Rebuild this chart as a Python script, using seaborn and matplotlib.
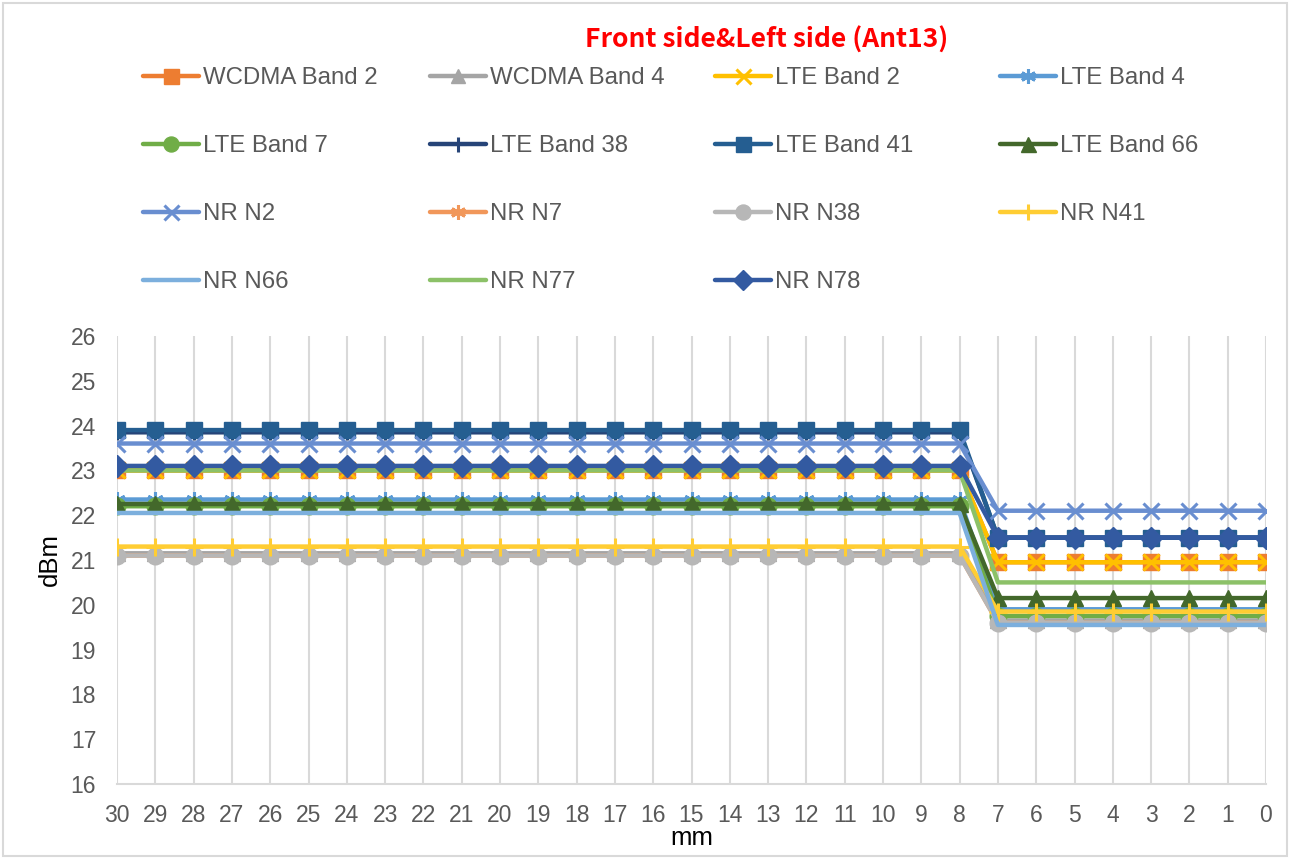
import matplotlib
matplotlib.use("Agg")
import matplotlib.pyplot as plt
import seaborn as sns
from matplotlib.patches import Rectangle

# distance to the phantom (mm), from 30 down to 0
mm = [30, 29, 28, 27, 26, 25, 24, 23, 22, 21, 20, 19, 18, 17, 16, 15,
      14, 13, 12, 11, 10, 9, 8, 7, 6, 5, 4, 3, 2, 1, 0]

# power in dBm per band, one value per mm position
wcdma_b2 = [23.0, 23.0, 23.0, 23.0, 23.0, 23.0, 23.0, 23.0, 23.0, 23.0, 23.0, 23.0, 23.0, 23.0, 23.0, 23.0,
            23.0, 23.0, 23.0, 23.0, 23.0, 23.0, 23.0, 20.95, 20.95, 20.95, 20.95, 20.95, 20.95, 20.95, 20.95]
wcdma_b4 = [21.15, 21.15, 21.15, 21.15, 21.15, 21.15, 21.15, 21.15, 21.15, 21.15, 21.15, 21.15, 21.15, 21.15, 21.15, 21.15,
            21.15, 21.15, 21.15, 21.15, 21.15, 21.15, 21.15, 19.65, 19.65, 19.65, 19.65, 19.65, 19.65, 19.65, 19.65]
lte_b2 = [23.0, 23.0, 23.0, 23.0, 23.0, 23.0, 23.0, 23.0, 23.0, 23.0, 23.0, 23.0, 23.0, 23.0, 23.0, 23.0,
          23.0, 23.0, 23.0, 23.0, 23.0, 23.0, 23.0, 20.95, 20.95, 20.95, 20.95, 20.95, 20.95, 20.95, 20.95]
lte_b4 = [22.35, 22.35, 22.35, 22.35, 22.35, 22.35, 22.35, 22.35, 22.35, 22.35, 22.35, 22.35, 22.35, 22.35, 22.35, 22.35,
          22.35, 22.35, 22.35, 22.35, 22.35, 22.35, 22.35, 19.9, 19.9, 19.9, 19.9, 19.9, 19.9, 19.9, 19.9]
lte_b7 = [22.2, 22.2, 22.2, 22.2, 22.2, 22.2, 22.2, 22.2, 22.2, 22.2, 22.2, 22.2, 22.2, 22.2, 22.2, 22.2,
          22.2, 22.2, 22.2, 22.2, 22.2, 22.2, 22.2, 19.75, 19.75, 19.75, 19.75, 19.75, 19.75, 19.75, 19.75]
lte_b38 = [23.85, 23.85, 23.85, 23.85, 23.85, 23.85, 23.85, 23.85, 23.85, 23.85, 23.85, 23.85, 23.85, 23.85, 23.85, 23.85,
           23.85, 23.85, 23.85, 23.85, 23.85, 23.85, 23.85, 21.5, 21.5, 21.5, 21.5, 21.5, 21.5, 21.5, 21.5]
lte_b41 = [23.9, 23.9, 23.9, 23.9, 23.9, 23.9, 23.9, 23.9, 23.9, 23.9, 23.9, 23.9, 23.9, 23.9, 23.9, 23.9,
           23.9, 23.9, 23.9, 23.9, 23.9, 23.9, 23.9, 21.5, 21.5, 21.5, 21.5, 21.5, 21.5, 21.5, 21.5]
lte_b66 = [22.25, 22.25, 22.25, 22.25, 22.25, 22.25, 22.25, 22.25, 22.25, 22.25, 22.25, 22.25, 22.25, 22.25, 22.25, 22.25,
           22.25, 22.25, 22.25, 22.25, 22.25, 22.25, 22.25, 20.15, 20.15, 20.15, 20.15, 20.15, 20.15, 20.15, 20.15]
nr_n2 = [23.6, 23.6, 23.6, 23.6, 23.6, 23.6, 23.6, 23.6, 23.6, 23.6, 23.6, 23.6, 23.6, 23.6, 23.6, 23.6,
         23.6, 23.6, 23.6, 23.6, 23.6, 23.6, 23.6, 22.1, 22.1, 22.1, 22.1, 22.1, 22.1, 22.1, 22.1]
nr_n7 = [21.1, 21.1, 21.1, 21.1, 21.1, 21.1, 21.1, 21.1, 21.1, 21.1, 21.1, 21.1, 21.1, 21.1, 21.1, 21.1,
         21.1, 21.1, 21.1, 21.1, 21.1, 21.1, 21.1, 19.6, 19.6, 19.6, 19.6, 19.6, 19.6, 19.6, 19.6]
nr_n38 = [21.1, 21.1, 21.1, 21.1, 21.1, 21.1, 21.1, 21.1, 21.1, 21.1, 21.1, 21.1, 21.1, 21.1, 21.1, 21.1,
          21.1, 21.1, 21.1, 21.1, 21.1, 21.1, 21.1, 19.6, 19.6, 19.6, 19.6, 19.6, 19.6, 19.6, 19.6]
nr_n41 = [21.3, 21.3, 21.3, 21.3, 21.3, 21.3, 21.3, 21.3, 21.3, 21.3, 21.3, 21.3, 21.3, 21.3, 21.3, 21.3,
          21.3, 21.3, 21.3, 21.3, 21.3, 21.3, 21.3, 19.85, 19.85, 19.85, 19.85, 19.85, 19.85, 19.85, 19.85]
nr_n66 = [22.05, 22.05, 22.05, 22.05, 22.05, 22.05, 22.05, 22.05, 22.05, 22.05, 22.05, 22.05, 22.05, 22.05, 22.05, 22.05,
          22.05, 22.05, 22.05, 22.05, 22.05, 22.05, 22.05, 19.55, 19.55, 19.55, 19.55, 19.55, 19.55, 19.55, 19.55]
nr_n77 = [23.0, 23.0, 23.0, 23.0, 23.0, 23.0, 23.0, 23.0, 23.0, 23.0, 23.0, 23.0, 23.0, 23.0, 23.0, 23.0,
          23.0, 23.0, 23.0, 23.0, 23.0, 23.0, 23.0, 20.5, 20.5, 20.5, 20.5, 20.5, 20.5, 20.5, 20.5]
nr_n78 = [23.1, 23.1, 23.1, 23.1, 23.1, 23.1, 23.1, 23.1, 23.1, 23.1, 23.1, 23.1, 23.1, 23.1, 23.1, 23.1,
          23.1, 23.1, 23.1, 23.1, 23.1, 23.1, 23.1, 21.5, 21.5, 21.5, 21.5, 21.5, 21.5, 21.5, 21.5]

names = ["WCDMA Band 2", "WCDMA Band 4", "LTE Band 2", "LTE Band 4",
         "LTE Band 7", "LTE Band 38", "LTE Band 41", "LTE Band 66",
         "NR N2", "NR N7", "NR N38", "NR N41",
         "NR N66", "NR N77", "NR N78"]
series = [wcdma_b2, wcdma_b4, lte_b2, lte_b4, lte_b7, lte_b38, lte_b41, lte_b66,
          nr_n2, nr_n7, nr_n38, nr_n41, nr_n66, nr_n77, nr_n78]

colors = ["#ED7D31", "#A5A5A5", "#FFC000", "#5B9BD5", "#70AD47", "#264478", "#255E91", "#43682B",
          "#698ED0", "#F1975A", "#B7B7B7", "#FFCD33", "#7CAFDD", "#8CC168", "#335AA1"]
asterisk = (6, 2, 0)
markers = ["s", "^", "x", asterisk, "o", "+", "s", "^",
           "x", asterisk, "o", "+", None, None, "D"]
sizes = [12, 11, 12, 12, 12, 12, 12, 12, 12, 12, 12, 13, 0, 0, 11]

sns.set_style("white")
plt.rcParams["font.family"] = ["Liberation Sans", "DejaVu Sans"]

fig = plt.figure(figsize=(12.9, 8.58), dpi=100)
ax = fig.add_axes([117 / 1290, 1 - 784 / 858, (1266 - 117) / 1290, (784 - 336) / 858])

for name, vals, c, m, s in zip(names, series, colors, markers, sizes):
    kw = dict(marker=m, markersize=s, mec=c, mfc=c, mew=2.2 if m in ("x", "+", asterisk) else 1)
    if m is None:
        kw = dict(marker=None)
    sns.lineplot(x=mm, y=vals, color=c, linewidth=3.2, label=name, ax=ax, **kw)

ax.set_xlim(30, 0)
ax.set_ylim(16, 26)
ax.set_xticks(mm)
ax.set_yticks(range(16, 27))
ax.tick_params(axis="both", length=0, labelsize=16.5, labelcolor="#595959")
ax.tick_params(axis="x", pad=14.5)
ax.tick_params(axis="y", pad=15)
ax.xaxis.grid(True, color="#D9D9D9", linewidth=1.5)
ax.yaxis.grid(False)
for sp in ["top", "right", "left"]:
    ax.spines[sp].set_visible(False)
ax.spines["bottom"].set_color("#D9D9D9")
ax.spines["bottom"].set_linewidth(1.5)
ax.set_axisbelow(True)
ax.set_xlabel("mm", fontsize=18.5, color="#000000", labelpad=-1)
ax.set_ylabel("dBm", fontsize=18.5, color="#000000", labelpad=6)

# legend: 4 columns, filled row by row like the original
handles, labels = ax.get_legend_handles_labels()
ax.get_legend().remove()
col_x = [143, 430, 715, 1000]
for ci, x0 in enumerate(col_x):
    idx = list(range(ci, len(labels), 4))
    leg = fig.legend([handles[i] for i in idx], [labels[i] for i in idx],
                     loc="upper left", bbox_to_anchor=(x0 / 1290, 1 - 67 / 858),
                     frameon=False, fontsize=17.3, labelcolor="#595959",
                     handlelength=2.35, handletextpad=0.15, labelspacing=1.92,
                     borderpad=0, borderaxespad=0, markerscale=0.9)

fig.text(767 / 1290, 1 - 40 / 858, "Front side&Left side (Ant13)", color="red",
         fontsize=19, fontweight="bold", ha="center", va="center",
         family=["Noto Sans CJK SC", "DejaVu Sans"])

fig.patches.append(Rectangle((3 / 1290, 2 / 858), 1284 / 1290, 853 / 858,
                             transform=fig.transFigure, fill=False,
                             edgecolor="#D9D9D9", linewidth=1.5))

fig.savefig("out.png", dpi=100)
